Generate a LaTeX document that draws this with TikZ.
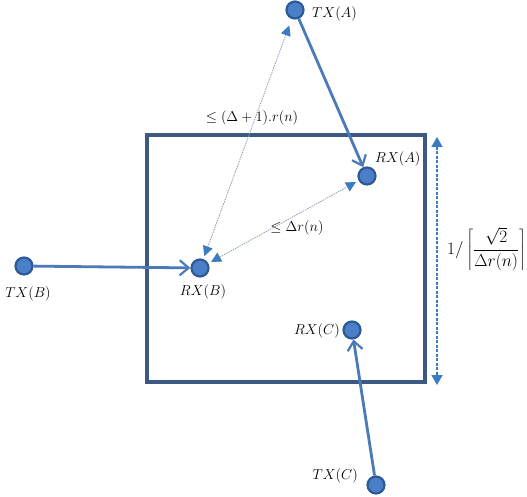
\documentclass[tikz,border=0pt]{standalone}
\usetikzlibrary{arrows.meta}
\definecolor{sqborder}{RGB}{59,89,130}
\definecolor{dotfill}{RGB}{74,127,200}
\definecolor{dotdraw}{RGB}{45,90,150}
\definecolor{arrline}{RGB}{75,122,184}
\definecolor{thinline}{RGB}{138,157,184}
\definecolor{tipcol}{RGB}{60,122,194}
\begin{document}
\begin{tikzpicture}[x=1pt,y=-1pt,
  dot/.style={circle,draw=dotdraw,fill=dotfill,line width=2.2pt,minimum size=17pt,inner sep=0pt},
  lbl/.style={font=\fontsize{15}{17}\selectfont,inner sep=1pt},
  link/.style={draw=arrline,line width=2.8pt,-{Straight Barb[length=9pt,width=15pt,line width=2.2pt]}},
  bound/.style={draw=thinline,line width=0.8pt,dash pattern=on 1.5pt off 1pt,{Triangle[length=10pt,width=10pt,fill=tipcol,color=tipcol]}-{Triangle[length=10pt,width=10pt,fill=tipcol,color=tipcol]}},
  side/.style={draw=tipcol,line width=1.4pt,dash pattern=on 3pt off 1.5pt,{Triangle[length=10pt,width=11pt]}-{Triangle[length=10pt,width=11pt]}}
]
\useasboundingbox (0,0) rectangle (527,497);
% square
\draw[sqborder,line width=3.5pt] (147,135) rectangle (425,382);
% nodes
\node[dot] (txa) at (295,10) {};
\node[dot] (rxa) at (367,176) {};
\node[dot] (txb) at (24,266) {};
\node[dot] (rxb) at (200,268) {};
\node[dot] (rxc) at (352,330) {};
\node[dot] (txc) at (376,485) {};
% labels
\node[lbl,anchor=west] (txal) at (311,14) {$TX(A)$};
\node[lbl,anchor=west] (rxal) at (374,159) {$RX(A)$};
\node[lbl] (txbl) at (28,294) {$TX(B)$};
\node[lbl] (rxbl) at (203,292) {$RX(B)$};
\node[lbl,anchor=east] (rxcl) at (341,331) {$RX(C)$};
\node[lbl,anchor=east] (txcl) at (359,476) {$TX(C)$};
\node[lbl] (d1) at (252,118) {$\leq(\Delta+1).r(n)$};
\node[lbl] (d2) at (297,228) {$\leq\Delta r(n)$};
\coordinate (vt) at (437,137);
\coordinate (vb) at (437,385);
\node[lbl,font=\fontsize{18}{20}\selectfont,anchor=west] (side) at (446,249) {$1/\left\lceil\displaystyle\frac{\sqrt{2}}{\Delta r(n)}\right\rceil$};
% connectors
\draw[link] (txa) -- (rxa);
\draw[link] (txb) -- (rxb);
\draw[link] (txc) -- (rxc);
\draw[bound,shorten <=3pt,shorten >=7pt] (rxb) -- (txa);
\draw[bound,shorten <=3pt,shorten >=3pt] (rxb) -- (rxa);
\draw[side] (vt) -- (vb);
\end{tikzpicture}
\end{document}
